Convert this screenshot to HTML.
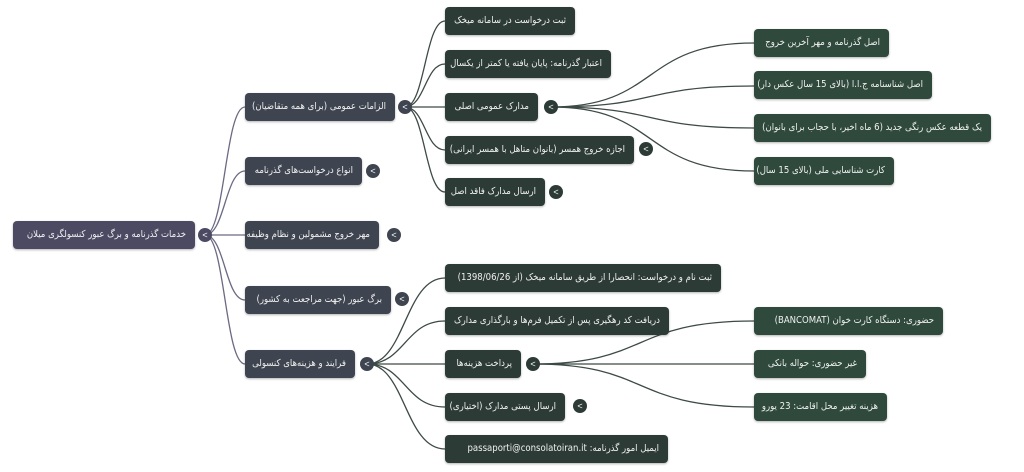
<!DOCTYPE html>
<html><head><meta charset="utf-8"><style>
body{margin:0;width:1024px;height:472px;background:#fff;position:relative;overflow:hidden;font-family:"DejaVu Sans Condensed","DejaVu Sans","Liberation Sans",sans-serif;}
.n{position:absolute;height:28px;border-radius:4px;color:#f0f0f0;font-size:9.5px;line-height:28px;direction:rtl;text-align:right;padding:0 9px;box-sizing:border-box;white-space:nowrap;overflow:hidden;box-shadow:0 1px 2px rgba(0,0,0,.3)}
.r{background:#4c4a63}.a{background:#3f4550}.b{background:#2d3b36}.c{background:#2f4a3c}
.t{position:absolute;width:14px;height:14px;border-radius:7px;color:#fff;font-size:9px;line-height:14px;text-align:center;font-family:"Liberation Sans",sans-serif}
svg{position:absolute;left:0;top:0}
</style></head><body>
<svg width="1024" height="472" fill="none" stroke-width="1.3">
<g stroke="#6b6a82">
<path d="M205,235 C225,235 225,107 245,107"/>
<path d="M205,235 C225,235 225,171 245,171"/>
<path d="M205,235 L245,235"/>
<path d="M205,235 C225,235 225,300 245,300"/>
<path d="M205,235 C225,235 225,364 245,364"/>
</g>
<g stroke="#3d4a45">
<path d="M405,107 C425,107 425,21 445,21"/>
<path d="M405,107 C425,107 425,64 445,64"/>
<path d="M405,107 L445,107"/>
<path d="M405,107 C425,107 425,150 445,150"/>
<path d="M405,107 C425,107 425,192 445,192"/>
<path d="M367,364 C405,364 405,278 445,278"/>
<path d="M367,364 C405,364 405,321 445,321"/>
<path d="M367,364 L445,364"/>
<path d="M367,364 C405,364 405,407 445,407"/>
<path d="M367,364 C405,364 405,449 445,449"/>
<path d="M551,107 C660,107 640,43 754,43"/>
<path d="M551,107 C660,107 640,86 754,86"/>
<path d="M551,107 C660,107 640,128 754,128"/>
<path d="M551,107 C660,107 640,171 754,171"/>
<path d="M533,364 C650,364 630,321 754,321"/>
<path d="M533,364 L754,364"/>
<path d="M533,364 C650,364 630,407 754,407"/>
</g>
</svg>
<div class="n r" style="left:13px;top:221px;width:182px">خدمات گذرنامه و برگ عبور کنسولگری میلان</div>
<div class="t r" style="left:198px;top:228px">&lt;</div>

<div class="n a" style="left:245px;top:93px;width:150px">الزامات عمومی (برای همه متقاضیان)</div>
<div class="t a" style="left:398px;top:100px">&lt;</div>
<div class="n a" style="left:245px;top:157px;width:117px">انواع درخواست‌های گذرنامه</div>
<div class="t a" style="left:366px;top:164px">&lt;</div>
<div class="n a" style="left:245px;top:221px;width:134px">مهر خروج مشمولین و نظام وظیفه</div>
<div class="t a" style="left:387px;top:228px">&lt;</div>
<div class="n a" style="left:245px;top:286px;width:146px">برگ عبور (جهت مراجعت به کشور)</div>
<div class="t a" style="left:395px;top:292px">&lt;</div>
<div class="n a" style="left:245px;top:350px;width:110px">فرایند و هزینه‌های کنسولی</div>
<div class="t a" style="left:360px;top:357px">&lt;</div>

<div class="n b" style="left:445px;top:7px;width:130px">ثبت درخواست در سامانه میخک</div>
<div class="n b" style="left:445px;top:50px;width:166px">اعتبار گذرنامه: پایان یافته یا کمتر از یکسال</div>
<div class="n b" style="left:445px;top:93px;width:93px">مدارک عمومی اصلی</div>
<div class="t b" style="left:544px;top:100px">&lt;</div>
<div class="n b" style="left:445px;top:136px;width:189px">اجازه خروج همسر (بانوان متاهل با همسر ایرانی)</div>
<div class="t b" style="left:639px;top:142px">&lt;</div>
<div class="n b" style="left:445px;top:178px;width:100px">ارسال مدارک فاقد اصل</div>
<div class="t b" style="left:549px;top:185px">&lt;</div>
<div class="n b" style="left:445px;top:264px;width:276px">ثبت نام و درخواست: انحصارا از طریق سامانه میخک (از 1398/06/26)</div>
<div class="n b" style="left:445px;top:307px;width:224px">دریافت کد رهگیری پس از تکمیل فرم‌ها و بارگذاری مدارک</div>
<div class="n b" style="left:445px;top:350px;width:76px">پرداخت هزینه‌ها</div>
<div class="t b" style="left:526px;top:357px">&lt;</div>
<div class="n b" style="left:445px;top:393px;width:120px">ارسال پستی مدارک (اختیاری)</div>
<div class="t b" style="left:573px;top:399px">&lt;</div>
<div class="n b" style="left:445px;top:435px;width:223px">ایمیل امور گذرنامه: passaporti@consolatoiran.it</div>

<div class="n c" style="left:754px;top:29px;width:135px">اصل گذرنامه و مهر آخرین خروج</div>
<div class="n c" style="left:754px;top:71px;width:178px">اصل شناسنامه ج.ا.ا (بالای 15 سال عکس دار)</div>
<div class="n c" style="left:754px;top:114px;width:237px">یک قطعه عکس رنگی جدید (6 ماه اخیر، با حجاب برای بانوان)</div>
<div class="n c" style="left:754px;top:157px;width:140px">کارت شناسایی ملی (بالای 15 سال)</div>
<div class="n c" style="left:754px;top:307px;width:189px">حضوری: دستگاه کارت خوان (BANCOMAT)</div>
<div class="n c" style="left:754px;top:350px;width:112px">غیر حضوری: حواله بانکی</div>
<div class="n c" style="left:754px;top:393px;width:133px">هزینه تغییر محل اقامت: 23 یورو</div>
</body></html>
